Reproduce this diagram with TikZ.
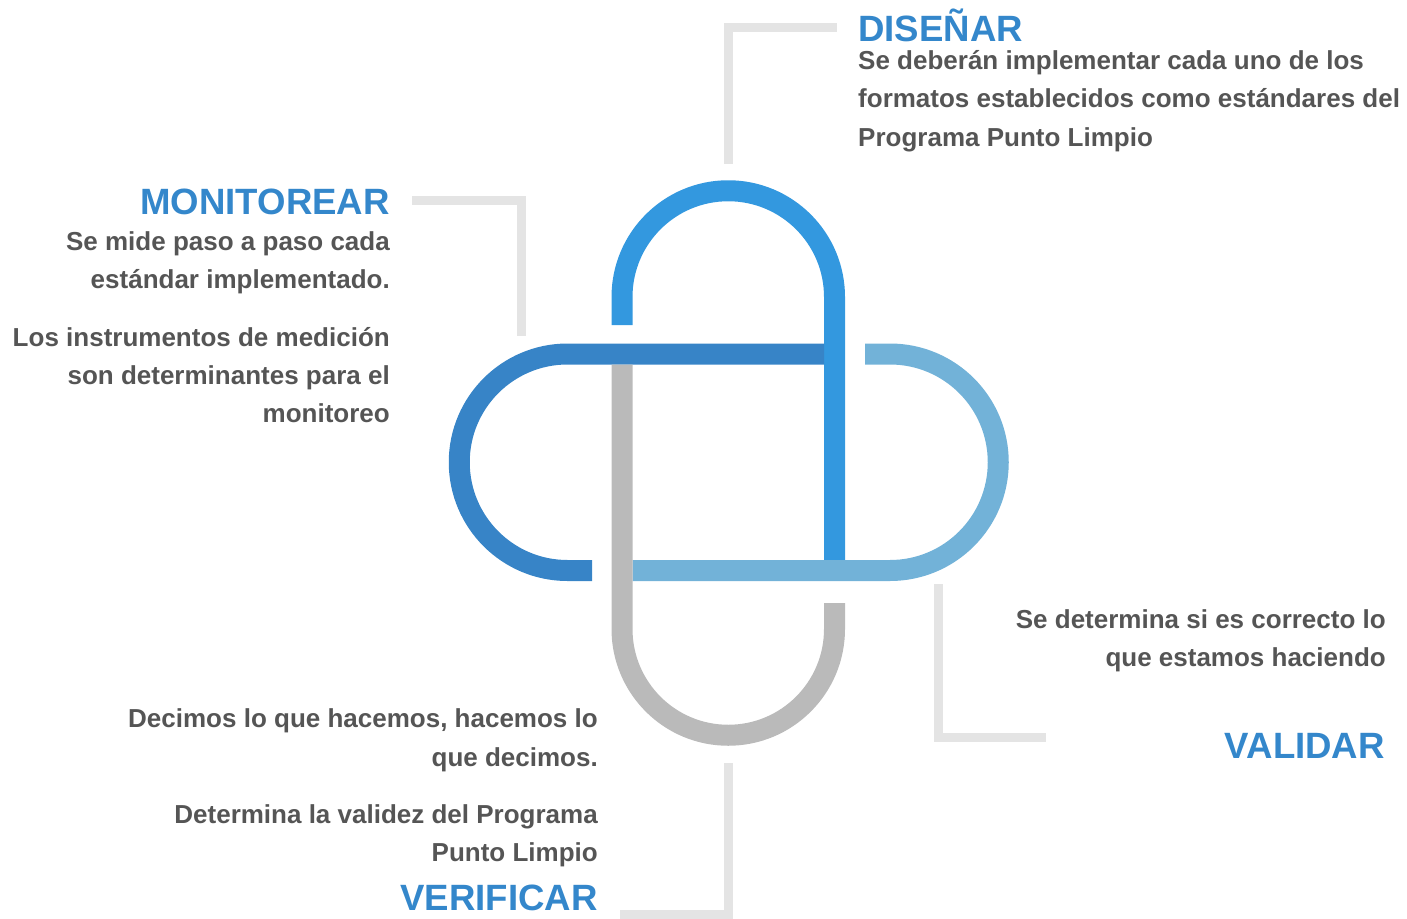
\documentclass[tikz,border=0pt]{standalone}
\usepackage{fontspec}
\setmainfont{Liberation Sans}
\definecolor{topblue}{HTML}{3398DF}
\definecolor{darkblue}{HTML}{3784C7}
\definecolor{lightblue}{HTML}{72B2D8}
\definecolor{ringgray}{HTML}{BABABA}
\definecolor{bracketgray}{HTML}{E4E4E4}
\definecolor{titleblue}{HTML}{3487CB}
\definecolor{bodygray}{HTML}{555555}
\tikzset{
  ring/.style={line width=21pt, line cap=butt, line join=round},
  bracket/.style={line width=9pt, draw=bracketgray, line cap=butt, line join=miter},
  title/.style={font=\bfseries\fontsize{36.6}{40}\selectfont, text=titleblue, inner sep=0pt},
  body/.style={font=\bfseries\fontsize{26}{30}\selectfont, text=bodygray, inner sep=0pt}
}
\begin{document}
\begin{tikzpicture}[x=1pt,y=-1pt]
\useasboundingbox (0,0) rectangle (1407,918);
% woven rings
\draw[ring, topblue] (622,325) -- (622,297) arc(180:360:106.25) -- (834.5,560);
\draw[ring, darkblue] (824,354) -- (567.5,354) arc(270:90:108.25) -- (592,570.5);
\draw[ring, lightblue] (865,354) -- (890,354) arc(270:450:108.25) -- (632.5,570.5);
\draw[ring, ringgray] (622,364.5) -- (622,629) arc(180:0:106.25) -- (834.5,603);
% brackets
\coordinate (d1) at (837,27); \coordinate (d2) at (728.5,27); \coordinate (d3) at (728.5,164);
\draw[bracket] (d1) -- (d2) -- (d3);
\coordinate (m1) at (412,200.5); \coordinate (m2) at (521.5,200.5); \coordinate (m3) at (521.5,336);
\draw[bracket] (m1) -- (m2) -- (m3);
\coordinate (v1) at (938.5,584); \coordinate (v2) at (938.5,737.5); \coordinate (v3) at (1046,737.5);
\draw[bracket] (v1) -- (v2) -- (v3);
\coordinate (f1) at (728.5,763); \coordinate (f2) at (728.5,914); \coordinate (f3) at (620,914);
\draw[bracket] (f1) -- (f2) -- (f3);
% DISEÑAR
\node[title, anchor=base west] (dt) at (858,41) {DISEÑAR};
\node[body, anchor=base west] (db1) at (858,69.5) {Se deberán implementar cada uno de los};
\node[body, anchor=base west] (db2) at (858,107.5) {formatos establecidos como estándares del};
\node[body, anchor=base west] (db3) at (858,146) {Programa Punto Limpio};
% MONITOREAR
\node[title, anchor=base east] (mt) at (390,214) {MONITOREAR};
\node[body, anchor=base east] (mb1) at (390,250) {Se mide paso a paso cada};
\node[body, anchor=base east] (mb2) at (390,288) {estándar implementado.};
\node[body, anchor=base east] (mb3) at (390,346) {Los instrumentos de medición};
\node[body, anchor=base east] (mb4) at (390,384) {son determinantes para el};
\node[body, anchor=base east] (mb5) at (390,422) {monitoreo};
% VALIDAR
\node[body, anchor=base east] (vb1) at (1386,628) {Se determina si es correcto lo};
\node[body, anchor=base east] (vb2) at (1386,666) {que estamos haciendo};
\node[title, anchor=base east] (vt) at (1385,758) {VALIDAR};
% VERIFICAR
\node[body, anchor=base east] (fb1) at (598,727) {Decimos lo que hacemos, hacemos lo};
\node[body, anchor=base east] (fb2) at (598,766) {que decimos.};
\node[body, anchor=base east] (fb3) at (598,823) {Determina la validez del Programa};
\node[body, anchor=base east] (fb4) at (598,861) {Punto Limpio};
\node[title, anchor=base east] (ft) at (598,910) {VERIFICAR};
\end{tikzpicture}
\end{document}
